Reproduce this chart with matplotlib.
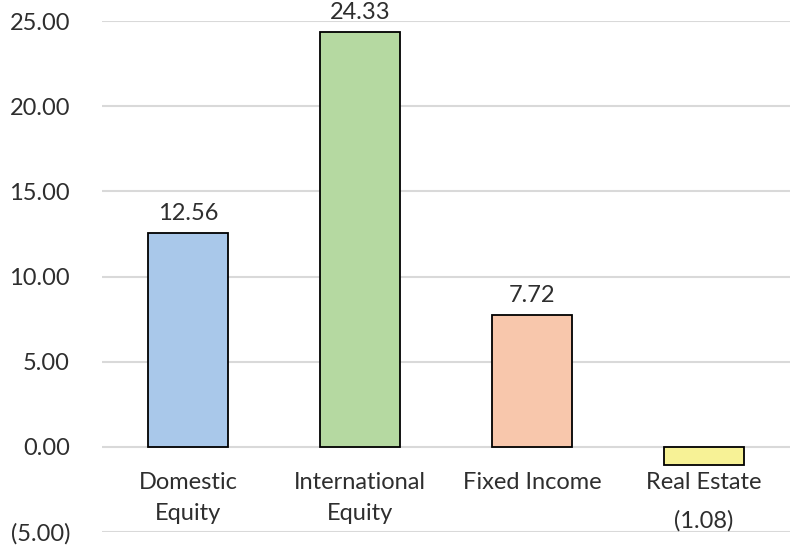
import matplotlib
matplotlib.use("Agg")
import matplotlib.pyplot as plt
from matplotlib.ticker import FuncFormatter

categories = ["Domestic\nEquity", "International\nEquity", "Fixed Income", "Real Estate"]
values = [12.56, 24.33, 7.72, -1.08]
colors = ["#a9c8ea", "#b5d9a1", "#f8c7ac", "#f7f296"]
yticks = [-5, 0, 5, 10, 15, 20, 25]

plt.rcParams["font.family"] = ["Lato", "DejaVu Sans"]
TEXT = "#2e2e2e"
FS = 17

fig = plt.figure(figsize=(7.91, 5.48), dpi=100)
ax = fig.add_axes([102 / 791, 16 / 548, 688 / 791, 511 / 548])

x = list(range(len(categories)))
ax.bar(x, values, width=0.46, color=colors, edgecolor="black", linewidth=1.3, zorder=3)

ax.set_xlim(-0.5, len(categories) - 0.5)
ax.set_ylim(-5, 25)
ax.set_yticks(yticks)


def fmt(v, _pos=None):
    return f"({abs(v):.2f})" if v < 0 else f"{v:.2f}"


ax.yaxis.set_major_formatter(FuncFormatter(fmt))
ax.grid(axis="y", color="#d9d9d9", linewidth=1.5, zorder=0)
ax.set_axisbelow(True)
for s in ax.spines.values():
    s.set_visible(False)

ax.tick_params(axis="y", length=0, pad=23, labelsize=FS, labelcolor=TEXT)
ax.set_xticks(x)
ax.set_xticklabels([])
ax.tick_params(axis="x", length=0)

# category labels sit just below the zero line
for xi, name in zip(x, categories):
    ax.annotate(name, xy=(xi, 0), xytext=(0, -18), textcoords="offset points",
                ha="center", va="top", fontsize=FS, color=TEXT,
                linespacing=1.6)

# value labels
for xi, v in zip(x, values):
    if v >= 0:
        ax.annotate(fmt(v), xy=(xi, v), xytext=(0, 14), textcoords="offset points",
                    ha="center", va="center", fontsize=FS, color=TEXT)
    else:
        ax.annotate(fmt(v), xy=(xi, v), xytext=(0, -40), textcoords="offset points",
                    ha="center", va="center", fontsize=FS, color=TEXT)

fig.savefig("out.png", dpi=100)
